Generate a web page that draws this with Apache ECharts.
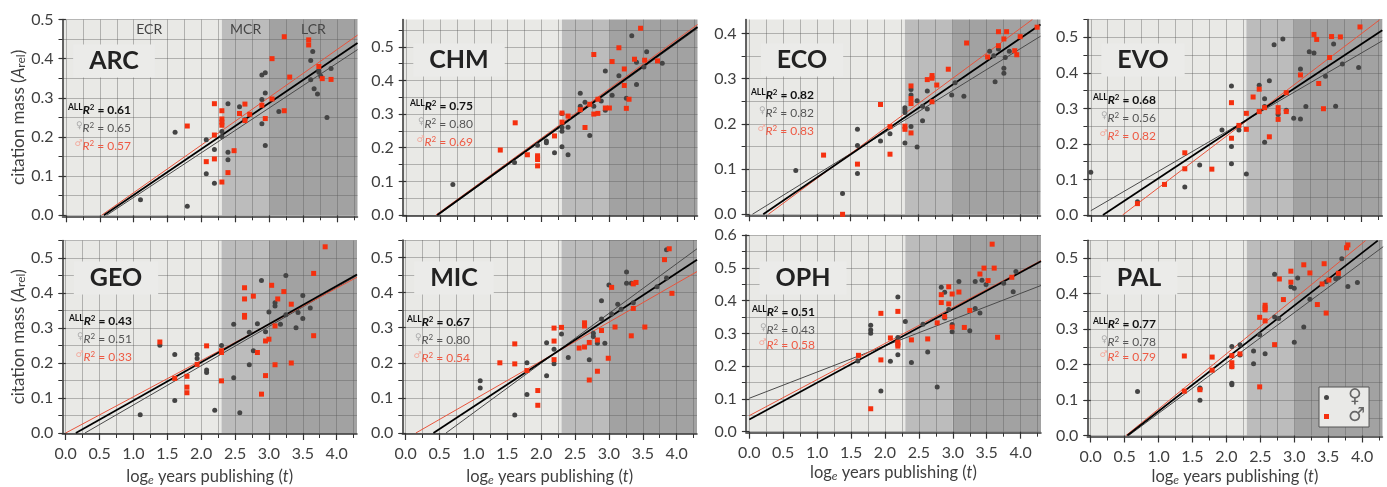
<!DOCTYPE html>
<html><head><meta charset="utf-8">
<style>html,body{margin:0;padding:0;background:#fff}#c{width:1387px;height:487px}</style>
<script src="https://cdn.jsdelivr.net/npm/echarts@6/dist/echarts.min.js"></script>
</head><body><div id="c"></div>
<script>
// ---------- data (x = log_e years publishing, y = citation mass) ----------
const xMajorTicks=[0,0.5,1,1.5,2,2.5,3,3.5,4];
const xMinorTicks=[0,0.25,0.5,0.75,1,1.25,1.5,1.75,2,2.25,2.5,2.75,3,3.25,3.5,3.75,4,4.25];
const yMajor5=[0,0.1,0.2,0.3,0.4,0.5];
const yMajor4=[0,0.1,0.2,0.3,0.4];
const yMajor6=[0,0.1,0.2,0.3,0.4,0.5,0.6];
const yMinor=[0,0.05,0.1,0.15,0.2,0.25,0.3,0.35,0.4,0.45,0.5,0.55,0.6];
const careerStages=['ECR','MCR','LCR'];
const stageEdges=[-0.05,2.3,3.0,4.31];
const panelNames=['ARC','CHM','ECO','EVO','GEO','MIC','OPH','PAL'];

const arcF=[[1.10,.04],[1.79,.023],[1.61,.212],[2.07,.193],[2.07,.106],[2.19,.168],[2.19,.082],[2.30,.214],[2.30,.201],[2.39,.285],[2.39,.161],[2.39,.142],[2.56,.277],[2.64,.244],[2.89,.234],[2.89,.296],[2.89,.358],[2.94,.364],[2.94,.312],[2.94,.178],[3.14,.265],[3.64,.418],[3.61,.395],[3.61,.346],[3.66,.323],[3.71,.31],[3.73,.37],[3.73,.365],[3.76,.355],[3.85,.25],[3.91,.375]];
const arcM=[[1.79,.228],[2.07,.137],[2.19,.285],[2.19,.205],[2.19,.144],[2.30,.267],[2.30,.246],[2.30,.238],[2.30,.23],[2.30,.085],[2.39,.109],[2.48,.165],[2.56,.26],[2.64,.284],[2.64,.242],[2.71,.258],[2.89,.281],[2.94,.247],[3.04,.297],[3.04,.40],[3.22,.456],[3.22,.267],[3.30,.353],[3.58,.448],[3.58,.435],[3.73,.38],[3.78,.349],[3.91,.347]];
const arcFitAll=[[.56,0],[4.3,.44]], arcFitF=[[.6,0],[4.3,.423]], arcFitM=[[.525,0],[4.3,.46]];

const chmF=[[.69,.091],[1.60,.156],[1.94,.207],[2.07,.22],[2.07,.215],[2.19,.185],[2.30,.302],[2.30,.203],[2.30,.249],[2.30,.26],[2.39,.261],[2.39,.179],[2.57,.362],[2.57,.323],[2.57,.312],[2.64,.335],[2.71,.236],[2.77,.323],[2.88,.339],[2.94,.428],[2.94,.311],[3.04,.356],[3.14,.414],[3.25,.347],[3.33,.533],[3.40,.454],[3.40,.388],[3.51,.44],[3.55,.485],[3.78,.451]];
const chmM=[[1.39,.193],[1.61,.274],[1.79,.179],[1.94,.176],[1.94,.17],[1.94,.165],[1.94,.146],[2.19,.235],[2.30,.303],[2.30,.276],[2.39,.294],[2.57,.313],[2.64,.26],[2.71,.329],[2.77,.477],[2.77,.30],[2.83,.302],[2.83,.344],[2.94,.318],[3.0,.318],[3.04,.456],[3.14,.497],[3.22,.434],[3.22,.385],[3.25,.317],[3.29,.344],[3.37,.463],[3.46,.555],[3.52,.46],[3.71,.458]];
const chmFitAll=[[.46,0],[4.3,.559]], chmFitF=[[.475,0],[4.3,.555]], chmFitM=[[.44,0],[4.3,.566]];

const ecoF=[[.69,.097],[1.38,.046],[1.60,.188],[1.60,.152],[1.60,.09],[1.94,.162],[2.08,.178],[2.30,.236],[2.30,.231],[2.30,.225],[2.30,.158],[2.39,.276],[2.39,.264],[2.39,.194],[2.48,.251],[2.48,.149],[2.56,.239],[2.56,.207],[2.63,.273],[2.63,.233],[2.99,.264],[3.04,.291],[3.17,.261],[3.55,.361],[3.61,.351],[3.63,.293],[3.68,.366],[3.78,.347],[3.76,.323],[3.76,.312],[3.84,.361]];
const ecoM=[[1.10,.131],[1.38,.0],[1.60,.111],[1.94,.243],[2.08,.194],[2.08,.133],[2.30,.195],[2.30,.188],[2.39,.284],[2.39,.256],[2.39,.245],[2.39,.18],[2.70,.249],[2.63,.298],[2.70,.307],[2.70,.301],[2.77,.286],[2.94,.321],[3.21,.379],[3.52,.348],[3.68,.373],[3.68,.404],[3.76,.388],[3.80,.404],[3.92,.362],[3.95,.353],[4.0,.393],[4.25,.414]];
const ecoFitAll=[[.21,0],[4.3,.42]], ecoFitF=[[.05,0],[4.3,.394]], ecoFitM=[[.285,0],[4.18,.431]];

const evoF=[[0,.12],[.69,.037],[1.39,.079],[1.61,.141],[1.94,.239],[2.08,.363],[2.08,.193],[2.08,.144],[2.19,.239],[2.30,.115],[2.49,.365],[2.57,.327],[2.57,.305],[2.57,.205],[2.64,.378],[2.71,.479],[2.77,.283],[2.84,.495],[2.89,.295],[3.0,.272],[3.1,.411],[3.1,.27],[3.18,.305],[3.23,.459],[3.30,.456],[3.47,.39],[3.59,.481],[3.62,.306],[3.72,.425],[3.96,.415]];
const evoM=[[.69,.032],[1.09,.086],[1.39,.175],[1.39,.13],[1.79,.129],[2.08,.316],[2.08,.216],[2.19,.252],[2.30,.286],[2.30,.241],[2.40,.332],[2.49,.354],[2.49,.291],[2.57,.302],[2.64,.22],[2.77,.302],[2.77,.29],[2.77,.269],[2.89,.344],[2.89,.291],[3.1,.394],[3.30,.508],[3.34,.494],[3.37,.37],[3.44,.299],[3.53,.443],[3.56,.502],[3.69,.501],[3.98,.529]];
const evoFitAll=[[.18,0],[4.31,.52]], evoFitF=[[0,.012],[4.31,.49]], evoFitM=[[.47,0],[4.27,.549]];

const geoF=[[1.10,.052],[1.39,.251],[1.61,.224],[1.61,.093],[1.94,.224],[1.94,.213],[2.08,.18],[2.08,.173],[2.20,.065],[2.30,.25],[2.30,.23],[2.48,.311],[2.48,.158],[2.57,.058],[2.71,.288],[2.71,.195],[2.77,.235],[2.83,.312],[2.89,.436],[2.95,.289],[3.0,.346],[3.09,.372],[3.09,.363],[3.17,.311],[3.25,.45],[3.25,.338],[3.40,.301],[3.43,.344],[3.50,.393],[3.50,.327],[3.61,.357]];
const geoM=[[1.39,.26],[1.61,.156],[1.79,.162],[1.79,.131],[1.79,.115],[1.94,.196],[2.08,.249],[2.30,.235],[2.30,.23],[2.30,.149],[2.64,.415],[2.64,.383],[2.64,.336],[2.64,.331],[2.77,.391],[2.83,.23],[2.89,.111],[2.95,.263],[2.95,.164],[3.0,.268],[3.04,.422],[3.09,.306],[3.09,.195],[3.13,.383],[3.22,.404],[3.33,.368],[3.33,.2],[3.66,.456],[3.66,.278],[3.83,.532]];
const geoFitAll=[[.15,0],[4.3,.453]], geoFitF=[[.285,0],[4.3,.45]], geoFitM=[[0,0],[4.3,.445]];

const micF=[[1.10,.149],[1.10,.128],[1.61,.051],[1.79,.2],[1.79,.11],[2.08,.257],[2.08,.163],[2.19,.239],[2.19,.197],[2.30,.282],[2.40,.215],[2.71,.209],[2.77,.284],[2.77,.275],[2.83,.256],[2.89,.377],[2.89,.325],[2.94,.256],[3.0,.422],[3.04,.339],[3.13,.367],[3.18,.353],[3.26,.459],[3.26,.427],[3.33,.427],[3.36,.371],[3.71,.417],[3.85,.522],[3.85,.442]];
const micM=[[1.39,.2],[1.61,.254],[1.61,.197],[1.79,.178],[1.95,.121],[1.95,.079],[2.19,.299],[2.19,.262],[2.19,.209],[2.30,.301],[2.56,.242],[2.64,.314],[2.64,.305],[2.64,.245],[2.71,.258],[2.71,.151],[2.83,.265],[2.83,.176],[2.89,.292],[2.99,.213],[3.04,.415],[3.09,.302],[3.33,.277],[3.36,.355],[3.36,.425],[3.40,.429],[3.53,.302],[3.82,.494],[3.89,.525],[3.93,.398]];
const micFitAll=[[.41,0],[4.3,.494]], micFitF=[[.595,0],[4.3,.525]], micFitM=[[.15,0],[4.3,.46]];

const ophF=[[1.60,.216],[1.79,.325],[1.79,.31],[1.79,.30],[1.94,.124],[2.08,.215],[2.19,.411],[2.19,.287],[2.19,.235],[2.30,.336],[2.39,.211],[2.56,.328],[2.63,.243],[2.77,.136],[2.83,.441],[2.88,.425],[2.88,.347],[2.94,.373],[2.99,.327],[2.99,.305],[3.09,.458],[3.25,.308],[3.33,.458],[3.33,.376],[3.40,.362],[3.43,.462],[3.49,.449],[3.75,.453],[3.89,.427],[3.93,.489]];
const ophM=[[1.61,.233],[1.79,.07],[1.94,.361],[1.94,.219],[2.08,.286],[2.19,.367],[2.19,.273],[2.19,.267],[2.19,.261],[2.39,.28],[2.63,.283],[2.77,.332],[2.83,.418],[2.83,.394],[2.88,.351],[2.94,.442],[2.94,.39],[2.99,.42],[2.99,.319],[3.09,.426],[3.17,.318],[3.25,.37],[3.40,.481],[3.46,.499],[3.52,.461],[3.58,.572],[3.61,.499],[3.66,.288],[3.87,.471]];
const ophFitAll=[[0,.037],[4.3,.52]], ophFitF=[[0,.102],[4.3,.446]], ophFitM=[[0,.049],[4.3,.522]];

const palF=[[.69,.124],[1.61,.134],[1.61,.13],[1.61,.099],[2.08,.251],[2.08,.194],[2.08,.147],[2.08,.143],[2.20,.256],[2.20,.227],[2.40,.238],[2.40,.202],[2.49,.284],[2.57,.23],[2.71,.334],[2.71,.454],[2.77,.33],[2.95,.419],[3.0,.415],[3.0,.263],[3.05,.444],[3.14,.306],[3.23,.384],[3.47,.433],[3.61,.442],[3.65,.446],[3.70,.498],[3.79,.42],[3.93,.431]];
const palM=[[1.38,.125],[1.38,.224],[1.61,.129],[1.79,.221],[1.79,.184],[2.08,.225],[2.08,.205],[2.08,.194],[2.20,.23],[2.49,.333],[2.49,.137],[2.57,.367],[2.57,.36],[2.57,.354],[2.57,.323],[2.71,.256],[2.78,.441],[2.84,.383],[2.95,.463],[2.95,.432],[3.14,.481],[3.23,.458],[3.34,.369],[3.41,.427],[3.44,.484],[3.47,.345],[3.51,.438],[3.65,.457],[3.77,.529],[3.79,.537]];
const palFitAll=[[.54,0],[4.23,.549]], palFitF=[[.56,0],[4.31,.532]], palFitM=[[.52,0],[4.05,.549]];

const r2All=['0.61','0.75','0.82','0.68','0.43','0.67','0.51','0.77'];
const r2F=['0.65','0.80','0.82','0.56','0.51','0.80','0.43','0.78'];
const r2M=['0.57','0.69','0.83','0.82','0.33','0.54','0.58','0.79'];

const femaleSets=[arcF,chmF,ecoF,evoF,geoF,micF,ophF,palF];
const maleSets=[arcM,chmM,ecoM,evoM,geoM,micM,ophM,palM];
const fitsAll=[arcFitAll,chmFitAll,ecoFitAll,evoFitAll,geoFitAll,micFitAll,ophFitAll,palFitAll];
const fitsF=[arcFitF,chmFitF,ecoFitF,evoFitF,geoFitF,micFitF,ophFitF,palFitF];
const fitsM=[arcFitM,chmFitM,ecoFitM,evoFitM,geoFitM,micFitM,ophFitM,palFitM];
const yMaxes=[.5,.581,.431,.55,.55,.55,.6,.55];
const yMajors=[yMajor5,yMajor5,yMajor4,yMajor5,yMajor5,yMajor5,yMajor6,yMajor5];

// ---------- layout ----------
const boxes=[ // left, right, top, bottom (pixels)
 [62.5,357.5,19.5,215.3],[402.7,697.5,19.5,215],[745.6,1040.5,19.5,214.3],[1087.4,1382.3,19.5,215],
 [62.3,357,240.5,435.7],[402.3,697,240,435.3],[745.9,1041,235,431.7],[1087.3,1382.5,240.3,438.3]];
const titleAt=[[114,61],[459,60],[802,60],[1143,60],[116,278],[454,278],[803,278],[1139,278]];
const statAt=[[131,110],[473,106],[814,95],[1156,100],[132,321],[470,322],[815,312],[1156,324]];
const xNameGaps=[0,0,0,0,33,33,30,30.5];
const FONT='Lato';
const INK='#3f3f3f';

const grid=[],xAxis=[],yAxis=[],series=[],graphic=[];
panelNames.forEach((name,i)=>{
  const [l,r,t,b]=boxes[i];
  grid.push({left:l,top:t,width:r-l,height:b-t,show:false});
  const bottomRow=i>=4, leftCol=i%4===0;
  const xmax=i===3?4.31:4.3;
  const lineStyle={color:'#333',width:1.5};
  const splitStyle={color:'rgba(90,90,90,0.4)',width:1};
  xAxis.push({gridIndex:i,type:'value',position:'bottom',offset:1,min:-0.05,max:xmax,
    axisLine:{show:true,onZero:false,lineStyle},
    axisTick:{show:true,length:4,customValues:xMinorTicks,lineStyle:{color:'#333',width:1}},
    axisLabel:{show:false},minorTick:{show:false},
    splitLine:{show:true,lineStyle:splitStyle}});
  xAxis.push({gridIndex:i,type:'value',position:'bottom',offset:1,min:-0.05,max:xmax,
    axisLine:{show:false},
    axisTick:{show:true,length:7,customValues:xMajorTicks,lineStyle:{color:'#333',width:1.2}},
    axisLabel:{show:bottomRow,customValues:xMajorTicks,formatter:v=>v.toFixed(1),margin:12,
      color:INK,fontFamily:FONT,fontSize:16,showMinLabel:true,showMaxLabel:true},
    splitLine:{show:false},
    name:bottomRow?'log{sub|e} years publishing ({it|t})':'',nameLocation:'middle',nameGap:xNameGaps[i],
    nameTextStyle:{color:INK,fontFamily:FONT,fontSize:16.5,
      rich:{sub:{fontFamily:FONT,fontSize:12,color:INK,fontStyle:'italic',verticalAlign:'bottom',padding:[7,0,0,0]},
            it:{fontFamily:FONT,fontSize:16.5,color:INK,fontStyle:'italic'}}}});
  const ymax=yMaxes[i];
  const minor=yMinor.filter(v=>v<=ymax+1e-9);
  yAxis.push({gridIndex:i,type:'value',position:'left',min:0,max:ymax,
    axisLine:{show:true,onZero:false,lineStyle},
    axisTick:{show:true,length:4,customValues:minor,lineStyle:{color:'#333',width:1}},
    axisLabel:{show:false},splitLine:{show:true,lineStyle:splitStyle}});
  yAxis.push({gridIndex:i,type:'value',position:'left',min:0,max:ymax,
    axisLine:{show:false},
    axisTick:{show:true,length:7,customValues:yMajors[i],lineStyle:{color:'#333',width:1.2}},
    axisLabel:{show:true,customValues:yMajors[i],formatter:v=>v.toFixed(1),margin:9,
      color:INK,fontFamily:FONT,fontSize:16,showMinLabel:true,showMaxLabel:true},
    splitLine:{show:false},
    name:leftCol?'citation mass ({it|A}{sub|rel})':'',nameLocation:'middle',nameGap:35,nameRotate:90,
    nameTextStyle:{color:INK,fontFamily:FONT,fontSize:17,
      rich:{sub:{fontFamily:FONT,fontSize:12,color:INK,verticalAlign:'bottom',padding:[6,0,0,0]},
            it:{fontFamily:FONT,fontSize:17,color:INK,fontStyle:'italic'}}}});
  const xi=i*2,yi=i*2;
  const bandColors=['#e9e9e6','#bcbcbc','#a2a2a2'];
  series.push({type:'scatter',name:'stages',data:[],xAxisIndex:xi,yAxisIndex:yi,z:-1,silent:true,
    markArea:{silent:true,z:-1,data:careerStages.map((s,k)=>[
      {xAxis:stageEdges[k],yAxis:0,itemStyle:{color:bandColors[k]},
       label:{show:i===0,formatter:s,position:'insideTop',distance:3,offset:[k===0?7:0,0],color:'#444',fontFamily:FONT,fontSize:14}},
      {xAxis:Math.min(stageEdges[k+1],xmax),yAxis:ymax}])}});
  const fit=(d,n,c,w)=>series.push({type:'line',name:n,data:d,xAxisIndex:xi,yAxisIndex:yi,symbol:'none',silent:true,
    lineStyle:{color:c,width:w},z:3,clip:true,animation:false});
  fit(fitsF[i],'♀ fit','#4a4a4a',1);
  fit(fitsM[i],'♂ fit','#e8543c',1);
  series.push({type:'scatter',name:'♀',data:femaleSets[i],xAxisIndex:xi,yAxisIndex:yi,symbol:'circle',symbolSize:5,clip:false,
    itemStyle:{color:'#444444',opacity:1},z:4});
  series.push({type:'scatter',name:'♂',data:maleSets[i],xAxisIndex:xi,yAxisIndex:yi,symbol:'rect',symbolSize:5,clip:false,
    itemStyle:{color:'#f5300f',opacity:1},z:5});
  fit(fitsAll[i],'all fit','#000',1.8);
  // panel name
  graphic.push({type:'text',z:6,x:titleAt[i][0],y:titleAt[i][1],silent:true,style:{text:name,align:'center',verticalAlign:'middle',
    font:'bold 25px '+FONT,fill:'#222',backgroundColor:'#ebebe9',padding:[4,16,4,16]}});
  // R^2 texts
  const [sx,sy]=statAt[i];
  const rich=(col,symCol,bold)=>({
    a:{font:'bold 8.5px '+FONT,fill:col,verticalAlign:'top',lineHeight:14},
    g:{font:'9px "DejaVu Sans"',fill:symCol,verticalAlign:'top',lineHeight:14},
    r:{font:(bold?'bold ':'')+'italic 12px '+FONT,fill:col,lineHeight:14},
    s:{font:(bold?'bold ':'')+'8px '+FONT,fill:col,verticalAlign:'top',lineHeight:14},
    v:{font:(bold?'bold ':'')+'12px '+FONT,fill:col,lineHeight:14}});
  const stat=(y,txt,col,symCol,bold)=>graphic.push({type:'text',z:7,x:sx,y:y,silent:true,style:{text:txt,align:'right',verticalAlign:'middle',rich:rich(col,symCol,bold)}});
  stat(sy,'{a|ALL}{r|R}{s|2}{v| = '+r2All[i]+'}','#111','#111',true);
  stat(sy+18,'{g|♀}{r|R}{s|2}{v| = '+r2F[i]+'}','#555','#aaa',false);
  stat(sy+(i>=6?33:36),'{g|♂}{r|R}{s|2}{v| = '+r2M[i]+'}','#ee5a44','#f3a79a',false);
});

const chart=echarts.init(document.getElementById('c'),null,{renderer:'canvas'});
chart.setOption({
  animation:false,backgroundColor:'#fff',
  textStyle:{fontFamily:FONT},
  grid,xAxis,yAxis,series,graphic,
  legend:{show:true,selectedMode:false,z:8,left:1319,top:387,orient:'vertical',
    padding:[1,4,1,5],itemGap:0,itemWidth:5,itemHeight:5,itemStyle:{borderWidth:0},backgroundColor:'#e9e9e7',borderColor:'#555',borderWidth:1,
    data:[{name:'♀',icon:'circle'},{name:'♂',icon:'rect'}],
    textStyle:{fontFamily:'DejaVu Sans',fontSize:19,color:'#666',lineHeight:17,height:17,padding:[0,0,0,14]}}
});
</script></body></html>
